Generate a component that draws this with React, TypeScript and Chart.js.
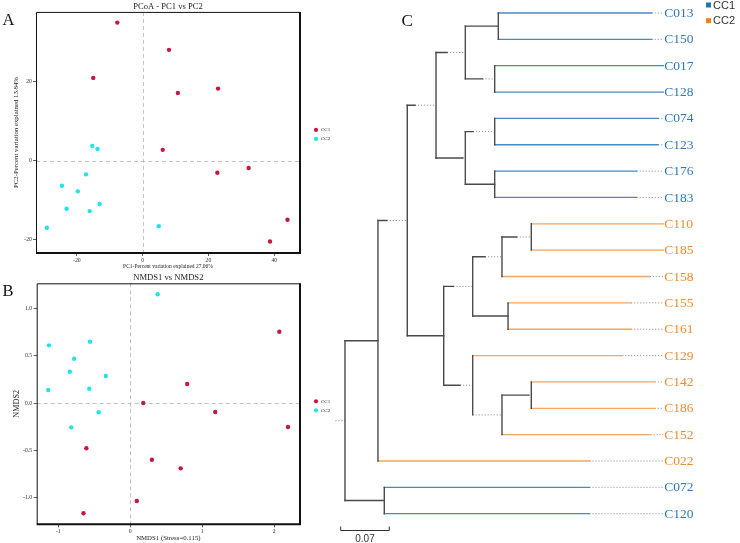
import React, { useEffect, useRef } from "react";
import { Chart, registerables } from "chart.js";
Chart.register(...registerables);

const SERIF = "'Liberation Serif', 'Times New Roman', serif";
const SANS = "'Liberation Sans', Arial, sans-serif";

const groupNames = ["CC1", "CC2"];

// ---------- Panel A: PCoA ----------
const pcoaCC1X = [-7.7, 8.0, -15.0, 10.7, 22.9, 6.1, 22.7, 32.2, 44.0, 38.7];
const pcoaCC1Y = [34.9, 28.0, 20.9, 17.1, 18.2, 2.7, -3.1, -1.9, -15.0, -20.5];
const pcoaCC2X = [-15.3, -13.7, -17.2, -24.5, -19.7, -13.1, -23.1, -16.1, -29.1, 4.9];
const pcoaCC2Y = [3.7, 2.9, -3.5, -6.4, -7.8, -11.0, -12.2, -12.8, -17.0, -16.6];
const pcoaXTicks = [-20, 0, 20, 40];
const pcoaYTicks = [-20, 0, 20];

// ---------- Panel B: NMDS ----------
const nmdsCC1X = [2.07, 0.79, 0.18, 1.18, 2.19, -0.61, 0.3, 0.7, 0.09, -0.65];
const nmdsCC1Y = [0.753, 0.2, 0.0, -0.095, -0.253, -0.478, -0.6, -0.69, -1.035, -1.165];
const nmdsCC2X = [0.38, -1.13, -0.56, -0.78, -0.84, -0.34, -1.14, -0.57, -0.44, -0.82];
const nmdsCC2Y = [1.148, 0.609, 0.647, 0.468, 0.33, 0.285, 0.137, 0.151, -0.098, -0.257];
const nmdsXTicks = [-1, 0, 1, 2];
const nmdsYTicks = [-1, -0.5, 0, 0.5, 1];

// ---------- Panel C: dendrogram ----------
const leafNames = ["C013", "C150", "C017", "C128", "C074", "C123", "C176", "C183", "C110", "C185",
  "C158", "C155", "C161", "C129", "C142", "C186", "C152", "C022", "C072", "C120"];
const leafGroup = [0, 0, 0, 0, 0, 0, 0, 0, 1, 1, 1, 1, 1, 1, 1, 1, 1, 1, 0, 0];
const leafLineEnd = [0.4417, 0.4417, 0.4585, 0.4585, 0.451, 0.451, 0.42, 0.42, 0.4585, 0.4585,
  0.439, 0.412, 0.412, 0.399, 0.446, 0.446, 0.44, 0.352, 0.352, 0.352];
const labelAlign = 0.4585;
const nodeNames = ["n1", "n2", "n3", "n4", "n5", "n6", "n7", "n8", "n9", "n10", "n11", "n12", "n13", "n14", "n15", "n16", "n17", "n18", "root"];
const nodeChildA = ["C013", "C017", "n1", "C074", "C176", "n4", "n3", "C110", "n8", "C155", "n9", "C142", "n12", "C129", "n11", "n7", "n16", "C072", "n17"];
const nodeChildB = ["C150", "C128", "n2", "C123", "C183", "n5", "n6", "C185", "C158", "C161", "n10", "C186", "C152", "n13", "n14", "n15", "C022", "C120", "n18"];
const nodeHeight = [0.2208, 0.2156, 0.1733, 0.2156, 0.2156, 0.1733, 0.1311, 0.2683, 0.2261, 0.2348, 0.1839, 0.2683, 0.2261, 0.1839, 0.1422, 0.0897, 0.0475, 0.0566, 0];
const nodeStemSolidEnd = [0.2208, 0.198, 0.147, 0.1843, 0.2156, 0.1695, 0.1008, 0.2473, 0.2016, 0.2348, 0.156, 0.2646, 0.1839, 0.1656, 0.1422, 0.0601, 0.0475, 0.0566, 0];
const rootStemStart = -0.014;
const scaleBarLength = 0.07;
const scaleBarLabel = "0.07";

const RED = "#c8173d";
const CYAN = "#22e3ec";
const BLUE_LINE = "#4a88c2";
const BLUE_TXT = "#2f79b9";
const ORANGE_LINE = "#f5a560";
const ORANGE_TXT = "#ee8b33";
const DARK = "#4a4a4a";
const DOT = "#9a9a9a";

function scatterConfig(p: any) {
  const decor = {
    id: "decor",
    beforeDatasetsDraw(chart: any) {
      const { ctx, chartArea: a, scales } = chart;
      const x0 = Math.round(scales.x.getPixelForValue(0)) + 0.5;
      const y0 = Math.round(scales.y.getPixelForValue(0)) + 0.5;
      ctx.save();
      ctx.strokeStyle = "#c2c2c2";
      ctx.lineWidth = 1;
      ctx.setLineDash([4, 3]);
      ctx.beginPath();
      ctx.moveTo(x0, a.top);
      ctx.lineTo(x0, a.bottom);
      ctx.moveTo(a.left, y0);
      ctx.lineTo(a.right, y0);
      ctx.stroke();
      ctx.restore();
    },
    afterDraw(chart: any) {
      const { ctx, chartArea: a } = chart;
      ctx.save();
      ctx.strokeStyle = "#111";
      ctx.lineWidth = 1;
      ctx.beginPath();
      ctx.moveTo(a.left + 0.5, a.bottom);
      ctx.lineTo(a.left + 0.5, a.top + 0.5);
      ctx.lineTo(a.right, a.top + 0.5);
      ctx.stroke();
      ctx.lineWidth = 2;
      ctx.beginPath();
      ctx.moveTo(a.right, a.top);
      ctx.lineTo(a.right, a.bottom);
      ctx.lineTo(a.left, a.bottom);
      ctx.stroke();
      // legend
      const cols = [RED, CYAN];
      groupNames.forEach((g, i) => {
        const yy = a.top + 118 + i * 9;
        ctx.fillStyle = cols[i];
        ctx.beginPath();
        ctx.arc(a.right + 16, yy, 2.1, 0, Math.PI * 2);
        ctx.fill();
        ctx.fillStyle = "#333";
        ctx.font = `5px ${SERIF}`;
        ctx.textBaseline = "middle";
        ctx.textAlign = "left";
        ctx.fillText(g, a.right + 21, yy);
      });
      // panel letter
      ctx.fillStyle = "#111";
      ctx.font = `16.5px ${SERIF}`;
      ctx.textBaseline = "alphabetic";
      ctx.fillText(p.letter, 2.5, p.letterBase);
      ctx.restore();
    },
  };
  const tickFont = { family: SERIF, size: 5.8 };
  return {
    type: "scatter",
    data: {
      datasets: [
        { label: groupNames[0], data: p.cc1x.map((x: number, i: number) => ({ x, y: p.cc1y[i] })), backgroundColor: RED, borderColor: RED, borderWidth: 0, pointRadius: 2.2 },
        { label: groupNames[1], data: p.cc2x.map((x: number, i: number) => ({ x, y: p.cc2y[i] })), backgroundColor: CYAN, borderColor: CYAN, borderWidth: 0, pointRadius: 2.2 },
      ],
    },
    options: {
      responsive: false,
      animation: false,
      devicePixelRatio: 1,
      layout: { padding: { left: 0, right: p.padRight, top: 0, bottom: 0 } },
      plugins: {
        legend: { display: false },
        tooltip: { enabled: false },
        title: {
          display: true,
          fullSize: false,
          text: p.title,
          color: "#222",
          font: { family: SERIF, size: 8.6, weight: "normal", lineHeight: 1.2 },
          padding: { top: p.titlePadTop, bottom: 0 },
        },
      },
      scales: {
        x: {
          type: "linear",
          min: p.xMin,
          max: p.xMax,
          afterFit: (s: any) => { s.height = p.xAxisH; },
          afterBuildTicks: (s: any) => { s.ticks = p.xTicks.map((v: number) => ({ value: v })); },
          ticks: { font: tickFont, color: "#333", padding: 0.6, maxRotation: 0, autoSkip: false, callback: (v: number) => p.xFmt(v) },
          grid: { drawOnChartArea: false, drawTicks: true, tickLength: 3, color: "#333", lineWidth: 0.8 },
          border: { display: false },
          title: { display: true, text: p.xTitle, color: "#222", font: { family: SERIF, size: p.xTitleSize, lineHeight: 1.2 }, padding: { top: 0, bottom: p.xTitlePadB } },
        },
        y: {
          type: "linear",
          min: p.yMin,
          max: p.yMax,
          afterFit: (s: any) => { s.width = p.yAxisW; },
          afterBuildTicks: (s: any) => { s.ticks = p.yTicks.map((v: number) => ({ value: v })); },
          ticks: { font: tickFont, color: "#333", padding: p.yTickPad, autoSkip: false, callback: (v: number) => p.yFmt(v) },
          grid: { drawOnChartArea: false, drawTicks: true, tickLength: 3, color: "#333", lineWidth: 0.8 },
          border: { display: false },
          title: { display: true, text: p.yTitle, color: "#222", font: { family: SERIF, size: p.yTitleSize, lineHeight: 1.2 }, padding: { top: p.yTitlePadT, bottom: 0 } },
        },
      },
    },
    plugins: [decor],
  };
}

function buildSegments() {
  const pos: Record<string, { x: number; y: number }> = {};
  leafNames.forEach((n, i) => { pos[n] = { x: labelAlign, y: i }; });
  nodeNames.forEach((n, k) => {
    const a = pos[nodeChildA[k]], b = pos[nodeChildB[k]];
    pos[n] = { x: nodeHeight[k], y: (a.y + b.y) / 2 };
  });
  const segs: any[] = [];
  const solid = (x1: number, y1: number, x2: number, y2: number, color: string, w = 1.4) =>
    segs.push({ x1, y1, x2, y2, color, w, dash: [] });
  const dotted = (x1: number, y1: number, x2: number, y2: number) =>
    segs.push({ x1, y1, x2, y2, color: DOT, w: 1, dash: [1.2, 1.8] });
  nodeNames.forEach((n, k) => {
    const h = nodeHeight[k];
    const a = pos[nodeChildA[k]], b = pos[nodeChildB[k]];
    solid(h, a.y, h, b.y, DARK);
    [nodeChildA[k], nodeChildB[k]].forEach((c) => {
      const li = leafNames.indexOf(c);
      if (li >= 0) {
        const col = leafGroup[li] === 0 ? BLUE_LINE : ORANGE_LINE;
        solid(h, li, leafLineEnd[li], li, col, 1.3);
        if (leafLineEnd[li] < labelAlign - 0.001) dotted(leafLineEnd[li], li, labelAlign, li);
      } else {
        const j = nodeNames.indexOf(c);
        const cy = pos[c].y;
        if (nodeStemSolidEnd[j] > h + 0.0005) solid(h, cy, nodeStemSolidEnd[j], cy, DARK);
        if (nodeHeight[j] > nodeStemSolidEnd[j] + 0.0005) dotted(nodeStemSolidEnd[j], cy, nodeHeight[j], cy);
      }
    });
  });
  const r = pos["root"];
  dotted(rootStemStart, r.y, nodeHeight[nodeHeight.length - 1], r.y);
  return segs;
}

function treeConfig() {
  const segs = buildSegments();
  const decor = {
    id: "treeDecor",
    afterDatasetsDraw(chart: any) {
      const { ctx, scales } = chart;
      const xs = scales.x, ys = scales.y;
      ctx.save();
      ctx.font = `13.5px ${SERIF}`;
      ctx.textBaseline = "middle";
      ctx.textAlign = "left";
      leafNames.forEach((n, i) => {
        ctx.fillStyle = leafGroup[i] === 0 ? BLUE_TXT : ORANGE_TXT;
        ctx.fillText(n, xs.getPixelForValue(labelAlign) + 1, ys.getPixelForValue(i) + 0.5);
      });
      // scale bar
      const bx0 = xs.getPixelForValue(-0.0062);
      const bx1 = xs.getPixelForValue(-0.0062 + scaleBarLength);
      const by = Math.round(ys.getPixelForValue(19.63)) + 0.5;
      ctx.strokeStyle = "#333";
      ctx.lineWidth = 1;
      ctx.beginPath();
      ctx.moveTo(bx0, by - 4);
      ctx.lineTo(bx0, by);
      ctx.lineTo(bx1, by);
      ctx.lineTo(bx1, by - 4);
      ctx.stroke();
      ctx.fillStyle = "#333";
      ctx.font = `10px ${SANS}`;
      ctx.textAlign = "center";
      ctx.fillText(scaleBarLabel, (bx0 + bx1) / 2, by + 8.5);
      // panel letter
      ctx.fillStyle = "#111";
      ctx.font = `17px ${SERIF}`;
      ctx.textAlign = "left";
      ctx.textBaseline = "alphabetic";
      ctx.fillText("C", 71.5, 26);
      // legend
      const cols = ["#1f77b4", "#ff7f0e"];
      groupNames.forEach((g, i) => {
        const yy = 5 + i * 15.7;
        ctx.fillStyle = cols[i];
        ctx.fillRect(376, yy - 2.5, 5, 5);
        ctx.fillStyle = "#333";
        ctx.font = `11px ${SANS}`;
        ctx.textBaseline = "middle";
        ctx.fillText(g, 383, yy + 0.5);
      });
      ctx.restore();
    },
  };
  return {
    type: "scatter",
    data: {
      datasets: segs.map((s) => ({
        data: [{ x: s.x1, y: s.y1 }, { x: s.x2, y: s.y2 }],
        showLine: true,
        pointRadius: 0,
        borderColor: s.color,
        borderWidth: s.w,
        borderDash: s.dash,
        borderCapStyle: s.dash.length ? "butt" : "square",
        fill: false,
      })),
    },
    options: {
      responsive: false,
      animation: false,
      devicePixelRatio: 1,
      layout: { padding: { left: 1.1, right: 75.6, top: 1.14, bottom: 2.95 } },
      plugins: { legend: { display: false }, tooltip: { enabled: false }, title: { display: false } },
      scales: {
        x: { type: "linear", display: false, min: -0.02, max: 0.46 },
        y: { type: "linear", display: false, reverse: true, min: -0.45, max: 20 },
      },
    },
    plugins: [decor],
  };
}

function ChartCanvas({ config, left, top, width, height }: any) {
  const ref = useRef<HTMLCanvasElement>(null);
  useEffect(() => {
    const c = new Chart(ref.current as HTMLCanvasElement, config() as any);
    return () => c.destroy();
  }, []);
  return <canvas ref={ref} width={width} height={height} style={{ position: "absolute", left, top, width, height }} />;
}

const fmtInt = (v: number) => String(v);
const fmt1 = (v: number) => v.toFixed(1);

export default function App() {
  return (
    <div style={{ position: "absolute", left: 0, top: 0, width: 740, height: 543, background: "#fff", overflow: "hidden" }}>
      <ChartCanvas
        left={0}
        top={0}
        width={340}
        height={270}
        config={() =>
          scatterConfig({
            letter: "A", letterBase: 25,
            cc1x: pcoaCC1X, cc1y: pcoaCC1Y, cc2x: pcoaCC2X, cc2y: pcoaCC2Y,
            xMin: -32.4, xMax: 47.8, yMin: -23.4, yMax: 37.6,
            xTicks: pcoaXTicks, yTicks: pcoaYTicks, xFmt: fmtInt, yFmt: fmtInt,
            title: "PCoA - PC1 vs PC2", titlePadTop: 1.6,
            xTitle: "PC1-Percent variation explained 27.06%", xTitleSize: 5.5, xTitlePadB: 0.2,
            yTitle: "PC2-Percent variation explained 13.84%", yTitleSize: 6.8, yTitlePadT: 11.9,
            xAxisH: 17, yAxisW: 36, yTickPad: 1, padRight: 40,
          })
        }
      />
      <ChartCanvas
        left={0}
        top={270}
        width={340}
        height={273}
        config={() =>
          scatterConfig({
            letter: "B", letterBase: 25.5,
            cc1x: nmdsCC1X, cc1y: nmdsCC1Y, cc2x: nmdsCC2X, cc2y: nmdsCC2Y,
            xMin: -1.3, xMax: 2.357, yMin: -1.281, yMax: 1.264,
            xTicks: nmdsXTicks, yTicks: nmdsYTicks, xFmt: fmtInt, yFmt: fmt1,
            title: "NMDS1 vs NMDS2", titlePadTop: 3,
            xTitle: "NMDS1 (Stress=0.115)", xTitleSize: 6.8, xTitlePadB: 0.9,
            yTitle: "NMDS2", yTitleSize: 8.2, yTitlePadT: 12,
            xAxisH: 18.7, yAxisW: 36.7, yTickPad: 1.5, padRight: 40,
          })
        }
      />
      <ChartCanvas left={330} top={0} width={410} height={543} config={treeConfig} />
    </div>
  );
}
